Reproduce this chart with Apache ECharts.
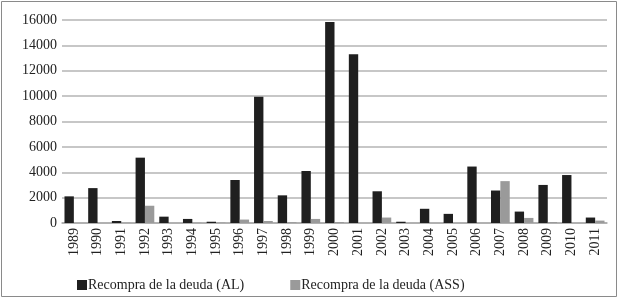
<!DOCTYPE html>
<html>
<head>
<meta charset="utf-8">
<script src="https://cdn.jsdelivr.net/npm/echarts@6/dist/echarts.min.js"></script>
<style>
  html, body { margin: 0; padding: 0; background: #fff; }
  #chart { width: 619px; height: 301px; }
</style>
</head>
<body>
<div id="chart"></div>
<script>
var years = ['1989', '1990', '1991', '1992', '1993', '1994', '1995', '1996', '1997', '1998', '1999', '2000',
             '2001', '2002', '2003', '2004', '2005', '2006', '2007', '2008', '2009', '2010', '2011']
var recompraAL = [2100, 2750, 160, 5150, 500, 320, 100, 3390, 9950, 2180, 4100, 15850,
                  13300, 2500, 100, 1120, 720, 4450, 2560, 900, 3000, 3780, 430]
var recompraASS = [0, 0, 20, 1360, 0, 20, 30, 270, 160, 60, 320, 80,
                   0, 430, 0, 0, 0, 0, 3300, 400, 80, 0, 190]
var yTicks = [0, 2000, 4000, 6000, 8000, 10000, 12000, 14000, 16000]

var seriesNames = ['Recompra de la deuda (AL)', 'Recompra de la deuda (ASS)']
var font = '"Liberation Serif", "DejaVu Serif", serif'

var chart = echarts.init(document.getElementById('chart'))

var option = {
    animation: false,
    textStyle: { fontFamily: font },
    graphic: [{
        type: 'rect',
        shape: { x: 1.5, y: 1.5, width: 615, height: 295 },
        style: { fill: 'none', stroke: '#8a8a8a', lineWidth: 1 },
        silent: true
    }],
    grid: {
        left: 62,
        right: 12,
        top: 20,
        bottom: 78
    },
    legend: {
        bottom: 4,
        left: 72,
        itemWidth: 10,
        itemHeight: 10,
        itemGap: 46,
        icon: 'rect',
        textStyle: { fontFamily: font, fontSize: 14, color: '#222', padding: [0, 0, 0, -4] },
        data: seriesNames
    },
    xAxis: {
        type: 'category',
        data: years,
        axisLine: { lineStyle: { color: '#aaa', width: 1.5 } },
        axisTick: { show: false },
        axisLabel: {
            rotate: 90,
            fontFamily: font,
            fontSize: 14,
            color: '#222',
            margin: 5,
            interval: 0
        }
    },
    yAxis: {
        type: 'value',
        min: yTicks[0],
        max: yTicks[yTicks.length - 1],
        interval: 2000,
        axisLine: { show: false },
        axisTick: { show: false },
        axisLabel: {
            fontFamily: font,
            fontSize: 14,
            color: '#222',
            margin: 5,
            formatter: function (v) { return String(v) }
        },
        splitLine: { lineStyle: { color: '#b5b5b5', width: 1.5 } }
    },
    series: [
        {
            name: seriesNames[0],
            type: 'bar',
            data: recompraAL,
            itemStyle: { color: '#1f1f1f' },
            barGap: '0%',
            barCategoryGap: '21%'
        },
        {
            name: seriesNames[1],
            type: 'bar',
            data: recompraASS,
            itemStyle: { color: '#9a9a9a' },
            barGap: '0%',
            barCategoryGap: '21%'
        }
    ]
}
chart.setOption(option)
</script>
</body>
</html>
